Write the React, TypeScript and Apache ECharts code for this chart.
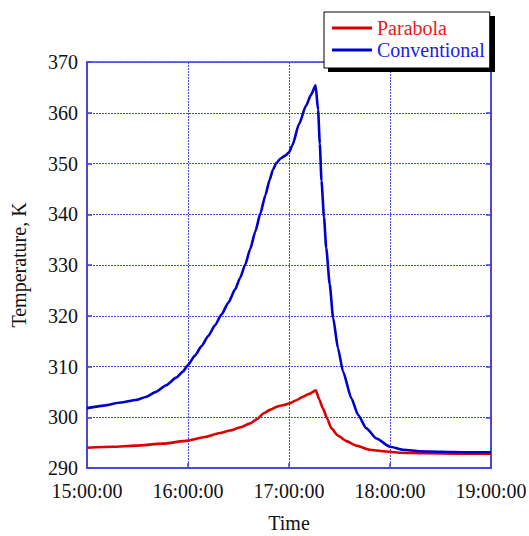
import React, { useEffect, useRef } from "react";
import * as echarts from "echarts";

// Minutes after 15:00:00
const conventionalMinutes = [0, 10, 20, 29, 35, 41, 47, 53, 57, 60, 64, 68, 72, 76, 80, 84, 88, 91, 94, 97, 100, 103, 106, 108.5, 110.5, 112.5, 115, 118, 120, 122, 126, 130, 133, 135.8, 137.3, 138.3, 139.3, 140.8, 142.1, 144.2, 146.2, 149.1, 152.1, 157.1, 161, 166, 172, 180, 188, 198, 210, 225, 240];
const conventionalTemps = [301.8, 302.3, 302.9, 303.4, 304.0, 305.0, 306.3, 307.8, 309.0, 310.3, 312.1, 314.0, 316.0, 318.1, 320.3, 322.6, 325.2, 327.5, 330.1, 333.2, 336.6, 340.2, 343.8, 346.8, 348.8, 350.1, 351.0, 351.6, 352.2, 353.6, 357.8, 361.3, 363.5, 365.4, 360.5, 353.9, 346.6, 339.4, 333.4, 326.2, 319.6, 313.6, 309.0, 303.7, 300.5, 297.8, 295.8, 294.2, 293.6, 293.3, 293.2, 293.1, 293.1];

const parabolaMinutes = [0, 15, 29, 45, 60, 70, 79, 85, 91, 97, 101, 105, 109, 113, 117, 120, 124, 128, 132, 135.9, 138, 140.2, 142.7, 145.2, 149, 154.1, 160, 168, 176, 186, 200, 220, 240];
const parabolaTemps = [294.0, 294.2, 294.4, 294.8, 295.4, 296.1, 296.9, 297.4, 298.0, 298.8, 299.6, 300.8, 301.5, 302.1, 302.4, 302.7, 303.3, 304.0, 304.6, 305.3, 303.5, 301.7, 299.7, 297.8, 296.4, 295.3, 294.4, 293.6, 293.3, 293.0, 292.9, 292.8, 292.8];

const xTickLabels = ["15:00:00", "16:00:00", "17:00:00", "18:00:00", "19:00:00"];
const seriesNames = ["Parabola", "Conventional"];

const FONT = "Liberation Serif";
const AXIS_BLUE = "#4040dc";
const GRID_BLUE = "#4a4ae0";
const RED = "#dd0000";
const BLUE = "#0000cc";

export default function App() {
  const ref = useRef<HTMLDivElement>(null);
  useEffect(() => {
    if (!ref.current) return;
    const chart = echarts.init(ref.current, null, { renderer: "svg" });
    const parabola = parabolaMinutes.map((m, i) => [m, parabolaTemps[i]]);
    const conventional = conventionalMinutes.map((m, i) => [m, conventionalTemps[i]]);
    chart.setOption({
      animation: false,
      backgroundColor: "#ffffff",
      textStyle: { fontFamily: FONT },
      grid: {
        left: 87,
        right: 38,
        top: 62,
        bottom: 68,
        outerBoundsMode: "none",
        containLabel: false,
        show: true,
        borderColor: AXIS_BLUE,
        borderWidth: 1.5,
        backgroundColor: "transparent",
      },
      graphic: [
        {
          type: "rect",
          left: 328,
          top: 16,
          z: 3,
          shape: { width: 167, height: 56 },
          style: { fill: "#000000" },
        },
      ],
      legend: {
        orient: "vertical",
        left: 324,
        top: 12,
        z: 5,
        backgroundColor: "#ffffff",
        borderColor: "#000000",
        borderWidth: 1,
        borderRadius: 0,
        padding: [6, 5, 8, 8],
        itemGap: 2,
        itemWidth: 40,
        itemHeight: 3,
        icon: "rect",
        textStyle: { fontFamily: FONT, fontSize: 20, lineHeight: 20 },
        data: [
          { name: seriesNames[0], textStyle: { color: "#e82020" } },
          { name: seriesNames[1], textStyle: { color: "#2020e8" } },
        ],
      },
      xAxis: {
        type: "value",
        min: 0,
        max: 240,
        interval: 60,
        name: "Time",
        nameLocation: "middle",
        nameGap: 48,
        nameTextStyle: { fontFamily: FONT, fontSize: 20, lineHeight: 14, color: "#111111" },
        axisLine: { show: true, lineStyle: { color: AXIS_BLUE, width: 1.5 } },
        axisTick: { show: true, inside: true, length: 5, lineStyle: { color: AXIS_BLUE, width: 1.5 } },
        axisLabel: {
          fontFamily: FONT,
          fontSize: 20,
          color: "#111111",
          margin: 13,
          formatter: (v: number) => xTickLabels[Math.round(v / 60)] ?? "",
        },
        splitLine: { show: true, lineStyle: { color: GRID_BLUE, type: [2, 1], width: 1 } },
      },
      yAxis: [
        {
          type: "value",
          min: 290,
          max: 370,
          interval: 10,
          name: "Temperature, K",
          nameLocation: "middle",
          nameGap: 58,
          nameTextStyle: { fontFamily: FONT, fontSize: 20, color: "#111111" },
          axisLine: { show: true, lineStyle: { color: AXIS_BLUE, width: 1.5 } },
          axisTick: { show: true, inside: true, length: 5, lineStyle: { color: AXIS_BLUE, width: 1.5 } },
          axisLabel: { fontFamily: FONT, fontSize: 20, color: "#111111", margin: 9 },
          splitLine: { show: true, lineStyle: { color: GRID_BLUE, type: [2, 1], width: 1 } },
        },
        {
          type: "value",
          min: 290,
          max: 370,
          interval: 10,
          position: "right",
          axisLine: { show: true, lineStyle: { color: AXIS_BLUE, width: 1.5 } },
          axisTick: { show: true, inside: true, length: 5, lineStyle: { color: AXIS_BLUE, width: 1.5 } },
          axisLabel: { show: false },
          splitLine: { show: false },
        },
      ],
      series: [
        {
          name: seriesNames[0],
          type: "line",
          data: parabola,
          showSymbol: false,
          symbol: "none",
          smooth: 0.2,
          smoothMonotone: "x",
          color: RED,
          lineStyle: { color: RED, width: 2.6 },
          z: 2,
        },
        {
          name: seriesNames[1],
          type: "line",
          data: conventional,
          showSymbol: false,
          symbol: "none",
          smooth: 0.2,
          smoothMonotone: "x",
          color: BLUE,
          lineStyle: { color: BLUE, width: 2.6 },
          z: 2,
        },
      ],
    });
    return () => chart.dispose();
  }, []);
  return (
    <div
      ref={ref}
      style={{ position: "fixed", left: 0, top: 0, width: 529, height: 536, background: "#ffffff" }}
    />
  );
}
